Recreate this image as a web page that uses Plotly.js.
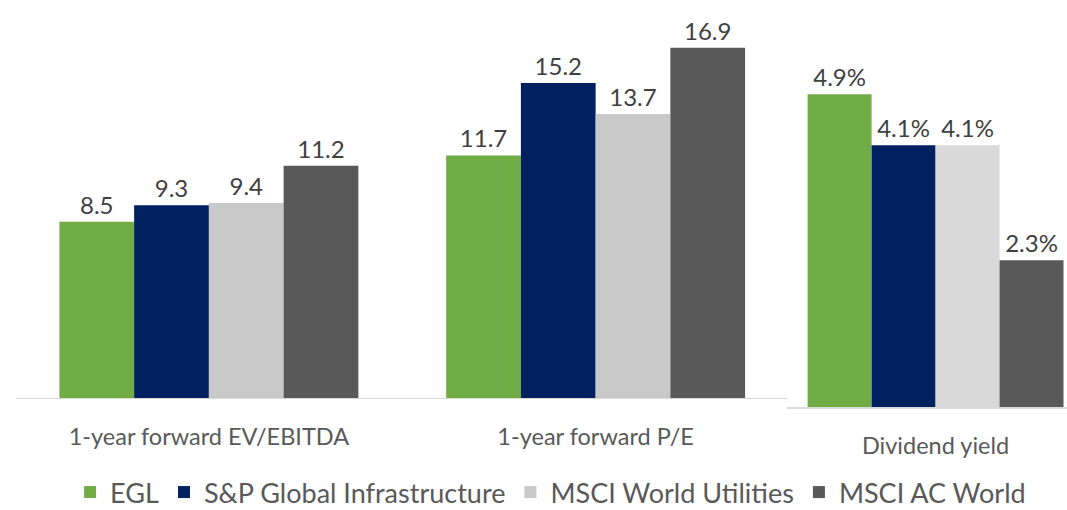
<!DOCTYPE html>
<html>
<head>
<meta charset="utf-8">
<script src="https://cdn.plot.ly/plotly-3.0.1.min.js"></script>
<style>html,body{margin:0;padding:0;background:#fff;}#chart{width:1067px;height:510px;}</style>
</head>
<body>
<div id="chart"></div>
<script>
// ---- data ----
const valuationCategories = ['1-year forward EV/EBITDA', '1-year forward P/E'];
const yieldCategories = ['Dividend yield'];
const seriesNames = ['EGL', 'S&P Global Infrastructure', 'MSCI World Utilities', 'MSCI AC World'];
const eglValuation = [8.5, 11.7];
const spValuation = [9.3, 15.2];
const utilValuation = [9.4, 13.7];
const acwiValuation = [11.2, 16.9];
const eglYield = [4.9];
const spYield = [4.1];
const utilYield = [4.1];
const acwiYield = [2.3];

// ---- styles ----
const FONT = 'Lato, "Open Sans", sans-serif';
const leftColors = ['#70AD47', '#002060', '#C9C9C9', '#595959'];
const rightColors = ['#70AD47', '#002060', '#D9D9D9', '#595959'];
const labelFont = {family: FONT, size: 24, color: '#404040'};

const valuationSeries = [eglValuation, spValuation, utilValuation, acwiValuation];
const yieldSeries = [eglYield, spYield, utilYield, acwiYield];

const traces = [];
seriesNames.forEach((name, i) => {
  traces.push({
    type: 'bar', name: name, legendgroup: name, showlegend: true,
    x: valuationCategories, y: valuationSeries[i],
    xaxis: 'x', yaxis: 'y',
    marker: {color: leftColors[i], line: {width: 0}},
    texttemplate: '%{y:.1f}', textposition: 'outside', textfont: labelFont,
    cliponaxis: false, hoverinfo: 'skip'
  });
});
seriesNames.forEach((name, i) => {
  traces.push({
    type: 'bar', name: name, legendgroup: name, showlegend: false,
    x: yieldCategories, y: yieldSeries[i],
    xaxis: 'x2', yaxis: 'y2',
    marker: {color: rightColors[i], line: {width: 0}},
    texttemplate: '%{y:.1f}%', textposition: 'outside', textfont: labelFont,
    cliponaxis: false, hoverinfo: 'skip'
  });
});

const tickFont = {family: FONT, size: 23.5, color: '#595959'};
const layout = {
  width: 1067, height: 510,
  margin: {l: 0, r: 0, t: 0, b: 0},
  paper_bgcolor: '#ffffff', plot_bgcolor: '#ffffff',
  barmode: 'group', bargap: 0.227, bargroupgap: 0,
  font: {family: FONT},
  showlegend: true,
  legend: {
    orientation: 'h', x: 0.516, xanchor: 'center',
    yref: 'container', y: 0.0343, yanchor: 'middle',
    font: {family: FONT, size: 27, color: '#595959'},
    traceorder: 'normal', itemwidth: 30
  },
  xaxis: {
    domain: [0.01453, 0.73946], range: [-0.5, 1.5], type: 'category',
    showline: true, linecolor: '#D9D9D9', linewidth: 1.5,
    showgrid: false, zeroline: false,
    ticks: '', ticklabelstandoff: 17, tickfont: tickFont, anchor: 'y'
  },
  yaxis: {
    domain: [0.1497, 1], range: [0, 19.2],
    visible: false, showgrid: false, zeroline: false, anchor: 'x'
  },
  xaxis2: {
    domain: [0.7379, 1], range: [-0.4477, 0.397], type: 'category',
    showline: true, linecolor: '#D9D9D9', linewidth: 1.5,
    showgrid: false, zeroline: false,
    ticks: '', ticklabelstandoff: 17, tickfont: tickFont, anchor: 'y2'
  },
  yaxis2: {
    domain: [0.1301, 1], range: [0, 6.375],
    visible: false, showgrid: false, zeroline: false, anchor: 'x2'
  }
};

Plotly.newPlot('chart', traces, layout, {staticPlot: true, displayModeBar: false});
</script>
</body>
</html>
